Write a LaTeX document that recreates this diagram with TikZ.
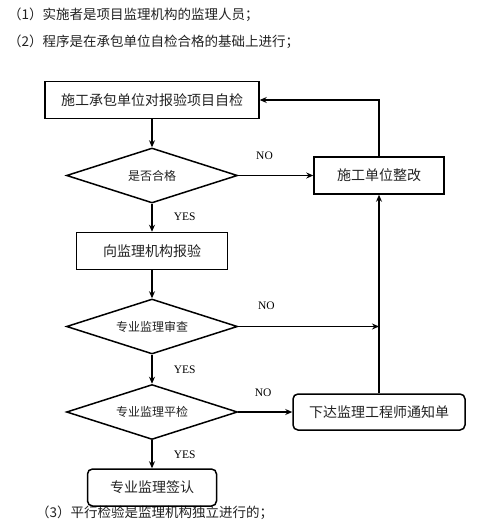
\documentclass[tikz,border=0pt]{standalone}
\usepackage{fontspec}
\setmainfont{Liberation Serif}
\newfontfamily\cjk{Noto Sans CJK SC}
\usepackage{tikz}
\usetikzlibrary{shapes.geometric, arrows.meta, positioning}
\definecolor{ink}{HTML}{222222}
\tikzstyle{stepbox}  = [rectangle, draw=black, line width=1.5pt, inner sep=0pt,
                        minimum height=37pt, text=ink, font=\cjk\fontsize{14}{16}\selectfont]
\tikzstyle{roundbox} = [stepbox, rounded corners=5pt]
\tikzstyle{decision} = [diamond, aspect=3.1, draw=black, line width=1.5pt, inner sep=0pt,
                        minimum width=171pt, minimum height=55pt, text=ink,
                        font=\cjk\fontsize{12}{14}\selectfont]
\tikzstyle{note}     = [anchor=west, inner sep=0pt, text=ink, font=\cjk\fontsize{13.5}{15}\selectfont]
\tikzstyle{tag}      = [inner sep=0pt, font=\fontsize{11.5}{13}\selectfont]
\tikzstyle{arrow}    = [->, >={Stealth[length=7pt,width=6pt]}, line width=1.5pt]

\begin{document}
\begin{tikzpicture}[x=1pt, y=1pt]
  \useasboundingbox (0,0) rectangle (479,-532);

  %% -- notes --
  \node[note] (note1) at (8,-15) {（1）实施者是项目监理机构的监理人员；};
  \node[note] (note2) at (8,-42) {（2）程序是在承包单位自检合格的基础上进行；};
  \node[note] (note3) at (36,-513) {（3）平行检验是监理机构独立进行的；};

  %% -- main column --
  \node[stepbox, minimum width=214pt] (selfcheck) at (152,-100) {施工承包单位对报验项目自检};
  \node[decision, below=28pt of selfcheck] (qualified) {是否合格};
  \node[stepbox, below=28pt of qualified, minimum width=151pt] (report) {向监理机构报验};
  \node[decision, below=28pt of report] (review) {专业监理审查};
  \node[decision, below=29pt of review] (parallel) {专业监理平检};
  \node[roundbox, below=28pt of parallel, minimum width=129pt] (sign) {专业监理签认};

  %% -- right column --
  \node[stepbox, right=75pt of qualified, minimum width=130pt] (rectify) {施工单位整改};
  \node[roundbox, right=54pt of parallel, minimum width=172pt, minimum height=36pt] (notice)
        {下达监理工程师通知单};
  \coordinate (join) at (review.east -| notice.north);

  %% -- arrows --
  \draw[arrow] (selfcheck) -- (qualified);
  \draw[arrow] (qualified) -- node[tag, right=21pt, pos=0.45] {YES} (report);
  \draw[arrow] (qualified) -- node[tag, above=15pt, pos=0.35] {NO} (rectify);
  \draw[arrow] (rectify.north) |- (selfcheck.east);
  \draw[arrow] (report) -- (review);
  \draw[arrow] (review) -- node[tag, right=21pt, pos=0.5] {YES} (parallel);
  \draw[arrow] (review.east) -- node[tag, above=16pt, pos=0.2] {NO} (join);
  \draw[arrow] (parallel) -- node[tag, right=21pt, pos=0.5] {YES} (sign);
  \draw[arrow] (parallel) -- node[tag, above=15pt, pos=0.46] {NO} (notice);
  \draw[arrow] (notice) -- (rectify);

\end{tikzpicture}
\end{document}
